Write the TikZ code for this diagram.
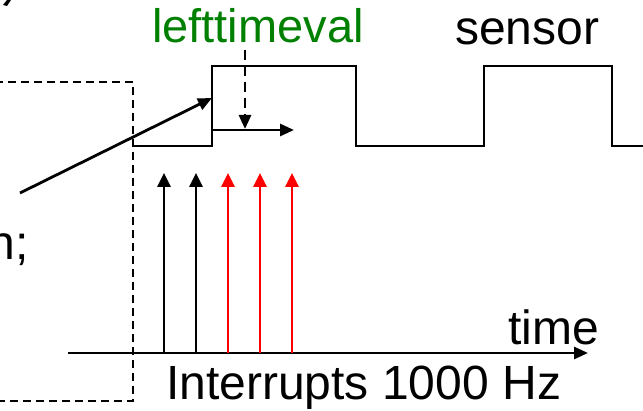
\documentclass[tikz,border=0pt]{standalone}
\usepackage{fontspec}
\setmainfont{Liberation Sans}
\usetikzlibrary{arrows.meta}
\begin{document}
\begin{tikzpicture}[x=1pt,y=-1pt,
  wire/.style={line width=2.8pt,line cap=butt},
  arr/.style={wire,-{Triangle[length=14pt,width=12pt]}},
  dbox/.style={line width=2.4pt,dash pattern=on 8pt off 5pt},
  lbl/.style={inner sep=0pt,anchor=base west,font=\fontsize{48}{52}\selectfont}]
\useasboundingbox (0,0) rectangle (643,411);
\clip (0,0) rectangle (643,411);
% fragment top-left
\fill (3,5) -- (7,0) -- (11,0) -- (7,6) -- cycle;
% partial text at left
\node[lbl,anchor=base east] (txt) at (29,260) {n;};
% dashed box
\coordinate (b1) at (-5,82);
\coordinate (b2) at (133,82);
\coordinate (b3) at (133,401);
\coordinate (b4) at (-5,401);
\draw[dbox] (b1) -- (b2) -- (b3) -- (b4);
% sensor waveform
\coordinate (w0) at (133,146);
\coordinate (w1) at (212,146);
\coordinate (w2) at (212,66);
\coordinate (w3) at (356,66);
\coordinate (w4) at (356,146);
\coordinate (w5) at (484,146);
\coordinate (w6) at (484,66);
\coordinate (w7) at (612,66);
\coordinate (w8) at (612,146);
\coordinate (w9) at (650,146);
\draw[wire,line join=miter] (w0) -- (w1) -- (w2) -- (w3) -- (w4) -- (w5) -- (w6) -- (w7) -- (w8) -- (w9);
% labels
\node[lbl,text=green!50!black,font=\fontsize{47}{50}\selectfont] (ltv) at (152,43) {lefttimeval};
\node[lbl] (sensor) at (455,45) {sensor};
% long arrow from left text to rising edge
\coordinate (a0) at (20,193);
\coordinate (a1) at (212,98);
\draw[arr] (a0) -- (a1);
% horizontal arrow
\coordinate (h0) at (212,130);
\coordinate (h1) at (294,130);
\draw[arr] (h0) -- (h1);
% dashed vertical arrow
\coordinate (v0) at (245,50);
\coordinate (v1) at (245,129);
\draw[arr,dash pattern=on 10pt off 6pt] (v0) -- (v1);
% time axis
\coordinate (t0) at (68,353);
\coordinate (t1) at (588,353);
\draw[arr] (t0) -- (t1);
\node[lbl] (time) at (508,345) {time};
\node[lbl] (intr) at (166,400) {Interrupts 1000 Hz};
% interrupt arrows
\foreach \x/\c in {164/black,196/black,228/red,260/red,292/red}{
  \coordinate (i\x a) at (\x,353);
  \coordinate (i\x b) at (\x,173);
  \draw[wire,draw=\c,-{Triangle[length=14pt,width=13pt]},fill=\c] (i\x a) -- (i\x b);
}
\end{tikzpicture}
\end{document}
